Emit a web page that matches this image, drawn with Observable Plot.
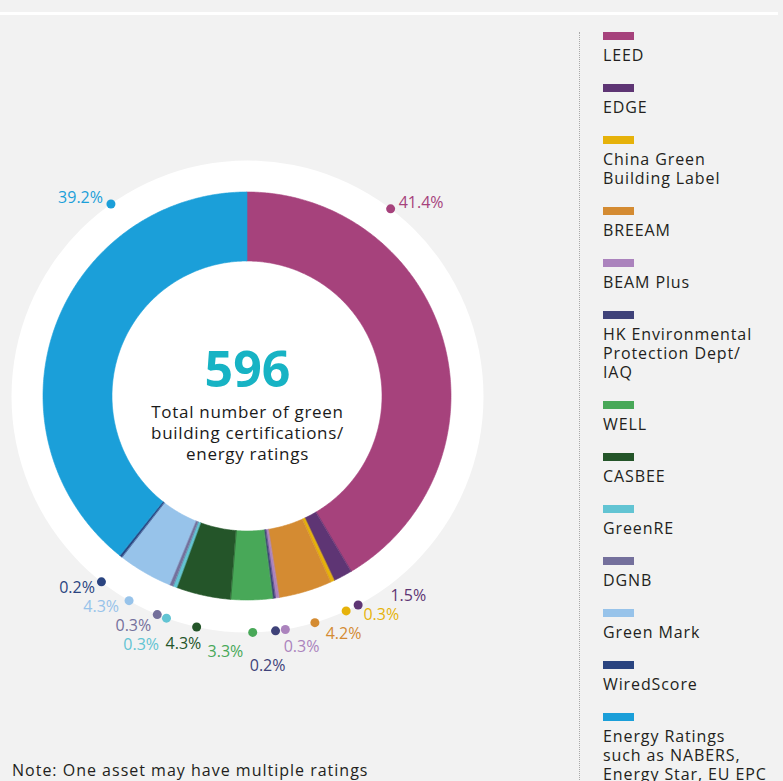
<!DOCTYPE html>
<html>
<head>
<meta charset="utf-8">
<script src="https://cdn.jsdelivr.net/npm/d3@7"></script>
<script src="https://cdn.jsdelivr.net/npm/@observablehq/plot@0.6"></script>
<style>
  html, body { margin: 0; padding: 0; background: #f2f2f2; }
  body { font-family: "Open Sans", "Liberation Sans", sans-serif; color: #231f20; }
  #wrap { position: relative; width: 783px; height: 781px; overflow: hidden; background: #f2f2f2; }
  #topline { position: absolute; left: 0; top: 12px; width: 778px; height: 3px; background: #ffffff; }
  #chart { position: absolute; left: 0; top: 0; }
  #chart svg { background: transparent !important; overflow: visible; }
  #legend { position: absolute; left: 579px; top: 32px; height: 760px; border-left: 1px dotted #a9a9a9; padding-left: 23px; }
  .item { margin-bottom: 18.7px; }
  .sw { width: 31px; height: 8px; margin-bottom: 6.3px; }
  .lab { font-size: 16px; line-height: 19px; letter-spacing: 0.9px; white-space: pre; color: #231f20; }
  #note { position: absolute; left: 12px; top: 761px; font-size: 16px; line-height: 19px; letter-spacing: 1px; color: #231f20; white-space: nowrap; }
</style>
</head>
<body>
<div id="wrap">
  <div id="topline"></div>
  <div id="chart"></div>
  <div id="legend"></div>
  <div id="note"></div>
</div>
<script>
// ---------- data ----------
const categories = [
  "LEED",
  "EDGE",
  "China Green\nBuilding Label",
  "BREEAM",
  "BEAM Plus",
  "HK Environmental\nProtection Dept/\nIAQ",
  "WELL",
  "CASBEE",
  "GreenRE",
  "DGNB",
  "Green Mark",
  "WiredScore",
  "Energy Ratings\nsuch as NABERS,\nEnergy Star, EU EPC"
];
const shares = [41.4, 1.5, 0.3, 4.2, 0.3, 0.2, 3.3, 4.3, 0.3, 0.3, 4.3, 0.2, 39.2];
const colors = ["#a6427c", "#5e3574", "#e6b20a", "#d48b32", "#ab83bd", "#3f4279",
                "#48a858", "#245529", "#62c4d3", "#74709c", "#97c3ea", "#2a4480", "#1b9fd9"];
const totalCount = "596";
const centerText = ["Total number of green", "building certifications/", "energy ratings"];
const noteText = "Note: One asset may have multiple ratings";

// ---------- layout constants ----------
const R_OUT = 204, R_IN = 135, R_BG = 236, R_DOT = 236, R_LAB_IN = 256, R_LAB_OUT = 270;
const TAU = 2 * Math.PI, DEG = Math.PI / 180;
const FONT = '"Open Sans", "Liberation Sans", sans-serif';

const rows = categories.map((cat, i) => ({cat, share: shares[i]}));
const pie = d3.pie().sort(null).value(d => d.share)(rows);

// Donut slices as annular sectors (outer arc / inner arc)
const arcPts = [];
pie.forEach(p => {
  const n = Math.max(2, Math.ceil((p.endAngle - p.startAngle) / (Math.PI / 360)));
  for (let i = 0; i <= n; i++) {
    const a = p.startAngle + (p.endAngle - p.startAngle) * i / n;
    arcPts.push({
      cat: p.data.cat,
      xo: R_OUT * Math.sin(a), yo: R_OUT * Math.cos(a),
      xi: R_IN * Math.sin(a), yi: R_IN * Math.cos(a)
    });
  }
});

// Label dots
const distTop = a => Math.min(a, TAU - a);
const items = pie.map(p => {
  const span = p.endAngle - p.startAngle;
  const it = {cat: p.data.cat, text: p.data.share.toFixed(1) + "%", start: p.startAngle, end: p.endAngle};
  if (span > Math.PI / 2) {
    it.big = true;
    it.a = distTop(p.startAngle) <= distTop(p.endAngle) ? p.startAngle + span / 4 : p.endAngle - span / 4;
  } else {
    it.a = (p.startAngle + p.endAngle) / 2;
  }
  return it;
});

// keep neighbouring dots at least 2.4 degrees apart
const small = items.filter(d => !d.big).sort((a, b) => a.a - b.a);
for (let k = 0; k < 1000; k++) {
  let moved = false;
  for (let i = 1; i < small.length; i++) {
    const d = small[i].a - small[i - 1].a, need = 2.4 * DEG;
    if (d < need - 1e-9) { const s = (need - d) / 2; small[i - 1].a -= s; small[i].a += s; moved = true; }
  }
  if (!moved) break;
}
items.forEach(it => { it.x = R_DOT * Math.sin(it.a); it.y = R_DOT * Math.cos(it.a); });

// Labels: big slices beside their dot, small slices around the ring (two tracks)
const sideRight = [], sideLeft = [], cluster = [];
items.forEach(it => {
  if (Math.cos(it.a) > 0) {
    const right = Math.sin(it.a) > 0;
    const lab = {cat: it.cat, text: it.text, lx: it.x + (right ? 8 : -8), ly: it.y + 6};
    (right ? sideRight : sideLeft).push(lab);
  } else {
    cluster.push({cat: it.cat, text: it.text, la: it.a, target: it.a, r: R_LAB_IN});
  }
});
cluster.sort((a, b) => a.target - b.target);
// in a crowded pair, the label nearer the bottom moves to the outer track
for (let i = 1; i < cluster.length; i++) {
  const p = cluster[i - 1], c = cluster[i];
  if (c.target - p.target < 3 * DEG && p.r === R_LAB_IN && c.r === R_LAB_IN) {
    const pc = Math.abs(p.target - Math.PI), cc = Math.abs(c.target - Math.PI);
    (cc <= pc ? c : p).r = R_LAB_OUT;
  }
}
const BW = 42, BH = 19;
const pos = c => [c.r * Math.sin(c.la), c.r * Math.cos(c.la)];
for (let k = 0; k < 8000; k++) {
  let moved = false;
  for (let i = 0; i < cluster.length; i++) {
    for (let j = i + 1; j < cluster.length; j++) {
      const [x1, y1] = pos(cluster[i]), [x2, y2] = pos(cluster[j]);
      if (Math.abs(x1 - x2) < BW && Math.abs(y1 - y2) < BH) {
        cluster[i].la -= 0.05 * DEG; cluster[j].la += 0.05 * DEG; moved = true;
      }
    }
  }
  if (!moved) break;
}
cluster.forEach(c => { const [x, y] = pos(c); c.lx = x; c.ly = y; });

// ---------- plot ----------
const W = 560, H = 781, CX = 247, CY = 396;
const chart = Plot.plot({
  width: W, height: H,
  marginTop: 0, marginRight: 0, marginBottom: 0, marginLeft: 0,
  x: {domain: [-CX, W - CX], axis: null},
  y: {domain: [-(H - CY), CY], axis: null},
  color: {domain: categories, range: colors},
  style: {background: "transparent", fontFamily: FONT, overflow: "visible"},
  marks: [
    Plot.dot([{x: 0, y: 0}], {x: "x", y: "y", r: R_BG, fill: "#ffffff", stroke: "none"}),
    Plot.area(arcPts, {x1: "xo", y1: "yo", x2: "xi", y2: "yi", z: "cat", fill: "cat", stroke: "cat", strokeWidth: 0.6}),
    Plot.dot(items, {x: "x", y: "y", fill: "cat", r: 4.5, stroke: "none"}),
    Plot.text(sideRight, {x: "lx", y: "ly", text: "text", fill: "cat", textAnchor: "start", lineAnchor: "middle", fontSize: 16, fontFamily: FONT}),
    Plot.text(sideLeft, {x: "lx", y: "ly", text: "text", fill: "cat", textAnchor: "end", lineAnchor: "middle", fontSize: 16, fontFamily: FONT}),
    Plot.text(cluster, {x: "lx", y: "ly", text: "text", fill: "cat", textAnchor: "middle", lineAnchor: "middle", fontSize: 16, fontFamily: FONT}),
    Plot.text([{x: 0, y: 26, t: totalCount}], {x: "x", y: "y", text: "t", fill: "#17b3c4", fontSize: 50, fontWeight: "bold", lineAnchor: "middle", fontFamily: FONT}),
    Plot.text([{x: 0, y: -36, t: centerText.join("\n")}], {x: "x", y: "y", text: "t", fill: "#1a1a1a", fontSize: 17, lineHeight: 1.24, lineAnchor: "middle", fontFamily: FONT})
  ]
});
chart.querySelectorAll("text").forEach(t => {
  if (t.textContent.startsWith("Total") || t.textContent.startsWith("building") || t.textContent.startsWith("energy")) t.style.letterSpacing = "0.7px";
});
document.getElementById("chart").appendChild(chart);

// ---------- legend ----------
const legend = document.getElementById("legend");
categories.forEach((cat, i) => {
  const item = document.createElement("div");
  item.className = "item";
  const sw = document.createElement("div");
  sw.className = "sw";
  sw.style.background = colors[i];
  const lab = document.createElement("div");
  lab.className = "lab";
  lab.textContent = cat;
  item.appendChild(sw); item.appendChild(lab);
  legend.appendChild(item);
});
document.getElementById("note").textContent = noteText;
</script>
</body>
</html>
